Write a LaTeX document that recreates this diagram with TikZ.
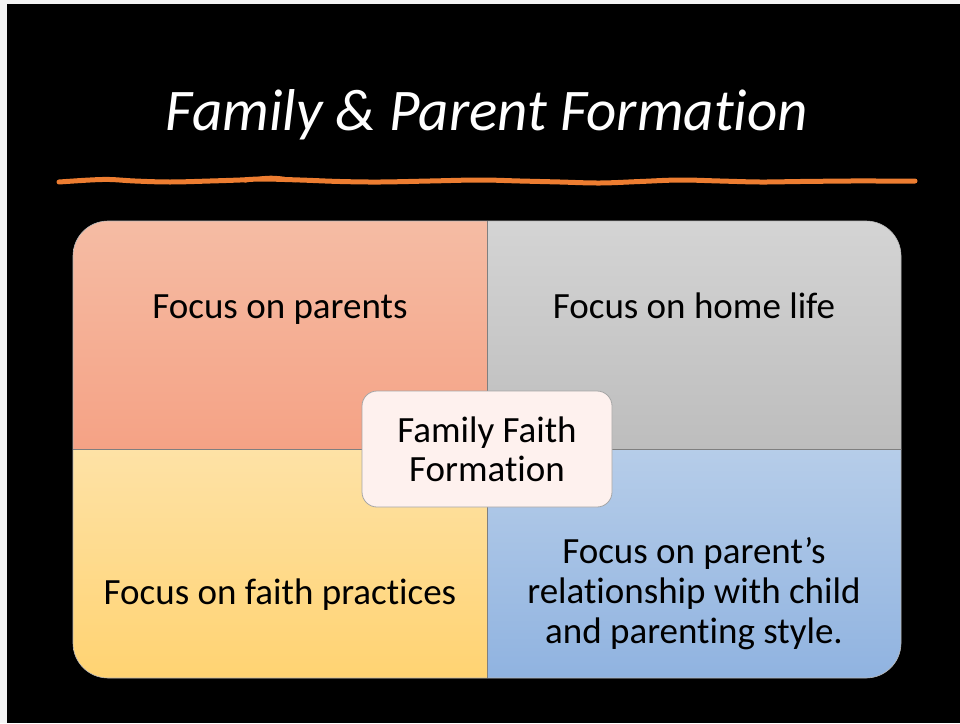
\documentclass[tikz,border=0pt]{standalone}
\usepackage{fontspec}
\setmainfont{Carlito}[RawFeature={-liga;-dlig}]
\definecolor{slidebg}{HTML}{000000}
\definecolor{margin}{HTML}{F4F4F4}
\definecolor{accent}{HTML}{ED7D31}
\definecolor{tltop}{HTML}{F5BCA4}
\definecolor{tlbot}{HTML}{F5A285}
\definecolor{trtop}{HTML}{D4D4D4}
\definecolor{trbot}{HTML}{BDBDBD}
\definecolor{bltop}{HTML}{FEE2A6}
\definecolor{blbot}{HTML}{FFD372}
\definecolor{brtop}{HTML}{B6CDE9}
\definecolor{brbot}{HTML}{90B3E0}
\definecolor{centerfill}{HTML}{FEF1EE}
\definecolor{divider}{HTML}{7F7F7F}
\tikzset{
  quadtext/.style={text=black, align=center, font=\fontsize{37}{40}\selectfont},
  centerbox/.style={draw=gray!70, line width=0.8pt, fill=centerfill, rounded corners=15pt,
    minimum width=250pt, minimum height=116pt, align=center, font=\fontsize{37}{39}\selectfont},
  titletext/.style={text=white, font=\fontsize{59}{66}\selectfont\itshape},
  squiggle/.style={draw=accent, line width=5pt, line cap=round, line join=round}
}
\begin{document}
\begin{tikzpicture}[x=1pt,y=-1pt]
\useasboundingbox (0,0) rectangle (960,723);
\fill[margin] (0,0) rectangle (960,723);
\fill[slidebg] (7,4) rectangle (960,723);

% title
\node[titletext, anchor=base] (title) at (487,130) {Family \& Parent Formation};

% orange hand-drawn underline
\draw[squiggle] plot[smooth, tension=0.6] coordinates {(59,182) (90,180) (110,179.5) (135,181) (170,182) (210,181) (240,180) (262,179) (300,180) (340,181.5) (380,182) (430,181) (480,180) (520,181) (560,182) (600,183) (640,181.5) (680,180) (720,181) (760,182) (800,181.5) (850,181) (880,181) (915,181)};
\draw[accent, line width=2.5pt, line cap=round] plot[smooth, tension=0.7] coordinates {(245,181.5) (262,177.5) (280,177.5) (296,181)};

% quadrants
\begin{scope}
  \clip[rounded corners=35pt] (73,221) rectangle (901,678);
  \shade[top color=tltop, bottom color=tlbot] (73,221) rectangle (487,449);
  \shade[top color=trtop, bottom color=trbot] (487,221) rectangle (901,449);
  \shade[top color=bltop, bottom color=blbot] (73,449) rectangle (487,678);
  \shade[top color=brtop, bottom color=brbot] (487,449) rectangle (901,678);
\end{scope}
\draw[gray!55, line width=0.6pt, rounded corners=35pt] (73,221) rectangle (901,678);
\coordinate (vtop) at (487,221);
\coordinate (vbot) at (487,678);
\coordinate (hleft) at (73,449);
\coordinate (hright) at (901,449);
\draw[divider, line width=1pt] (vtop) -- (vbot);
\draw[divider, line width=1pt] (hleft) -- (hright);

\node[quadtext, anchor=base] (tl) at (280,318) {Focus on parents};
\node[quadtext, anchor=base] (tr) at (694,318) {Focus on home life};
\node[quadtext, anchor=base] (bl) at (280,604) {Focus on faith practices};
\node[quadtext] (br) at (694,594) {Focus on parent’s\\relationship with child\\and parenting style.};

% centre
\node[centerbox] (center) at (487,449) {Family Faith\\Formation};
\end{tikzpicture}
\end{document}
